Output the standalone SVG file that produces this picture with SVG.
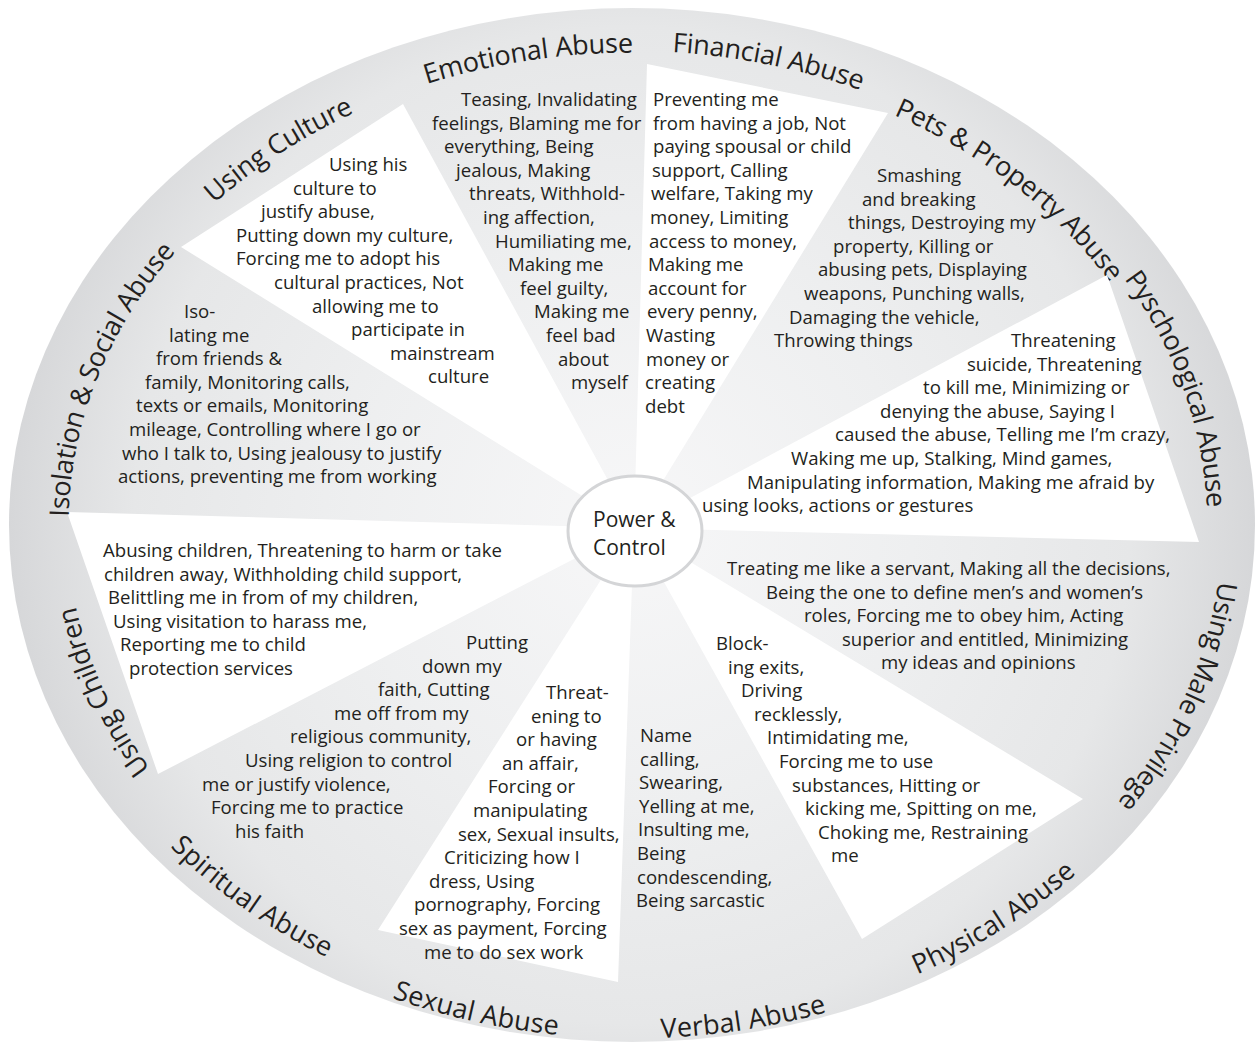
<svg xmlns="http://www.w3.org/2000/svg" width="1259" height="1045" viewBox="0 0 1259 1045">
<style>
.t{font-family:"Open Sans","Noto Sans",sans-serif;font-size:18.6px;fill:#231f20}
.lbl{font-family:"Open Sans","Noto Sans",sans-serif;font-size:27px;fill:#231f20}
.w{fill:#ffffff}
</style>
<defs>
<radialGradient id="ring" gradientUnits="userSpaceOnUse" cx="632" cy="525" r="623">
<stop offset="0" stop-color="#f7f7f8"/>
<stop offset="0.45" stop-color="#eeeff0"/>
<stop offset="0.8" stop-color="#e6e7e8"/>
<stop offset="1" stop-color="#d6d7d9"/>
</radialGradient>
<path id="p-emo" d="M251.4,159.1 A582.5,483.4 0 0 1 823.6,68.5"/>
<path id="p-fin" d="M472.9,58.3 A584.4,485 0 0 1 1039.4,177.3"/>
<path id="p-pet" d="M770.3,64.5 A571.9,474.6 0 0 1 1181.8,394.2"/>
<path id="p-psy" d="M1038.5,174.4 A586.2,486.5 0 0 1 1201,641.9"/>
<path id="p-mal" d="M1224.1,438.4 A601.2,498.9 0 0 1 1018.5,907.2"/>
<path id="p-phy" d="M720.6,1016.9 A599.3,497.4 0 0 0 1189.6,707.3"/>
<path id="p-ver" d="M434.8,1000.1 A605.6,502.5 0 0 0 1029.3,904.2"/>
<path id="p-sex" d="M200,877.2 A605.6,502.5 0 0 0 783.6,1011.5"/>
<path id="p-spi" d="M71.4,680.7 A591.2,490.6 0 0 0 514.1,1005.7"/>
<path id="p-chi" d="M261.9,890.9 A575.7,477.7 0 0 1 65,442.1"/>
<path id="p-iso" d="M83.6,666.8 A574.4,476.7 0 0 1 283.9,145.8"/>
<path id="p-cul" d="M88.4,352.7 A581.9,482.9 0 0 1 539.9,48.2"/>
</defs>

<g id="wheel">
<ellipse cx="632" cy="525" rx="623" ry="517" fill="url(#ring)"/>
</g>

<g id="emotional-abuse">
<text class="lbl" dominant-baseline="central"><textPath href="#p-emo" startOffset="50%" text-anchor="middle">Emotional Abuse</textPath></text>
<text class="t"><tspan x="461" y="106">Teasing, Invalidating</tspan><tspan x="432" y="129.6">feelings, Blaming me for</tspan><tspan x="444" y="153.2">everything, Being</tspan><tspan x="456" y="176.8">jealous, Making</tspan><tspan x="469" y="200.4">threats, Withhold-</tspan><tspan x="483" y="224">ing affection,</tspan><tspan x="495" y="247.6">Humiliating me,</tspan><tspan x="508" y="271.2">Making me</tspan><tspan x="520" y="294.8">feel guilty,</tspan><tspan x="534" y="318.4">Making me</tspan><tspan x="546" y="342">feel bad</tspan><tspan x="558" y="365.6">about</tspan><tspan x="571" y="389.2">myself</tspan></text>
</g>

<g id="financial-abuse">
<path class="w" d="M634,528 L647,64 L888,113 Z"/>
<text class="lbl" dominant-baseline="central"><textPath href="#p-fin" startOffset="50%" text-anchor="middle">Financial Abuse</textPath></text>
<text class="t"><tspan x="653" y="106">Preventing me</tspan><tspan x="653" y="129.6">from having a job, Not</tspan><tspan x="653" y="153.2">paying spousal or child</tspan><tspan x="652" y="176.8">support, Calling</tspan><tspan x="651" y="200.4">welfare, Taking my</tspan><tspan x="650" y="224">money, Limiting</tspan><tspan x="649" y="247.6">access to money,</tspan><tspan x="648" y="271.2">Making me</tspan><tspan x="648" y="294.8">account for</tspan><tspan x="647" y="318.4">every penny,</tspan><tspan x="646" y="342">Wasting</tspan><tspan x="646" y="365.6">money or</tspan><tspan x="645" y="389.2">creating</tspan><tspan x="645" y="412.8">debt</tspan></text>
</g>

<g id="pets-property-abuse">
<text class="lbl" dominant-baseline="central"><textPath href="#p-pet" startOffset="50%" text-anchor="middle">Pets &amp; Property Abuse</textPath></text>
<text class="t"><tspan x="877" y="182">Smashing</tspan><tspan x="862" y="205.6">and breaking</tspan><tspan x="848" y="229.2">things, Destroying my</tspan><tspan x="833" y="252.8">property, Killing or</tspan><tspan x="818" y="276.4">abusing pets, Displaying</tspan><tspan x="804" y="300">weapons, Punching walls,</tspan><tspan x="789" y="323.6">Damaging the vehicle,</tspan><tspan x="774" y="347.2">Throwing things</tspan></text>
</g>

<g id="psychological-abuse">
<path class="w" d="M634,528 L1107,275 L1199,542 Z"/>
<text class="lbl" dominant-baseline="central"><textPath href="#p-psy" startOffset="50%" text-anchor="middle">Pyschological Abuse</textPath></text>
<text class="t"><tspan x="1011" y="347">Threatening</tspan><tspan x="967" y="370.6">suicide, Threatening</tspan><tspan x="923" y="394.2">to kill me, Minimizing or</tspan><tspan x="880" y="417.8">denying the abuse, Saying I</tspan><tspan x="835" y="441.4">caused the abuse, Telling me I’m crazy,</tspan><tspan x="791" y="465">Waking me up, Stalking, Mind games,</tspan><tspan x="747" y="488.6">Manipulating information, Making me afraid by</tspan><tspan x="702" y="512.2">using looks, actions or gestures</tspan></text>
</g>

<g id="using-male-privilege">
<text class="lbl" dominant-baseline="central"><textPath href="#p-mal" startOffset="50%" text-anchor="middle">Using Male Privilege</textPath></text>
<text class="t"><tspan x="727" y="575">Treating me like a servant, Making all the decisions,</tspan><tspan x="766" y="598.6">Being the one to define men’s and women’s</tspan><tspan x="804" y="622.2">roles, Forcing me to obey him, Acting</tspan><tspan x="842" y="645.8">superior and entitled, Minimizing</tspan><tspan x="881" y="669.4">my ideas and opinions</tspan></text>
</g>

<g id="physical-abuse">
<path class="w" d="M634,528 L1083,799 L862,939 Z"/>
<text class="lbl" dominant-baseline="central"><textPath href="#p-phy" startOffset="50%" text-anchor="middle">Physical Abuse</textPath></text>
<text class="t"><tspan x="716" y="650">Block-</tspan><tspan x="728" y="673.6">ing exits,</tspan><tspan x="741" y="697.2">Driving</tspan><tspan x="754" y="720.8">recklessly,</tspan><tspan x="767" y="744.4">Intimidating me,</tspan><tspan x="779" y="768">Forcing me to use</tspan><tspan x="792" y="791.6">substances, Hitting or</tspan><tspan x="805" y="815.2">kicking me, Spitting on me,</tspan><tspan x="818" y="838.8">Choking me, Restraining</tspan><tspan x="831" y="862.4">me</tspan></text>
</g>

<g id="verbal-abuse">
<text class="lbl" dominant-baseline="central"><textPath href="#p-ver" startOffset="50%" text-anchor="middle">Verbal Abuse</textPath></text>
<text class="t"><tspan x="640" y="742">Name</tspan><tspan x="640" y="765.6">calling,</tspan><tspan x="639" y="789.2">Swearing,</tspan><tspan x="639" y="812.8">Yelling at me,</tspan><tspan x="638" y="836.4">Insulting me,</tspan><tspan x="637" y="860">Being</tspan><tspan x="637" y="883.6">condescending,</tspan><tspan x="636" y="907.2">Being sarcastic</tspan></text>
</g>

<g id="sexual-abuse">
<path class="w" d="M634,528 L618,982 L378,930 Z"/>
<text class="lbl" dominant-baseline="central"><textPath href="#p-sex" startOffset="50%" text-anchor="middle">Sexual Abuse</textPath></text>
<text class="t"><tspan x="546" y="699">Threat-</tspan><tspan x="531" y="722.6">ening to</tspan><tspan x="516" y="746.2">or having</tspan><tspan x="502" y="769.8">an affair,</tspan><tspan x="488" y="793.4">Forcing or</tspan><tspan x="473" y="817">manipulating</tspan><tspan x="458" y="840.6">sex, Sexual insults,</tspan><tspan x="444" y="864.2">Criticizing how I</tspan><tspan x="429" y="887.8">dress, Using</tspan><tspan x="414" y="911.4">pornography, Forcing</tspan><tspan x="399" y="935">sex as payment, Forcing</tspan><tspan x="424" y="958.6">me to do sex work</tspan></text>
</g>

<g id="spiritual-abuse">
<text class="lbl" dominant-baseline="central"><textPath href="#p-spi" startOffset="50%" text-anchor="middle">Spiritual Abuse</textPath></text>
<text class="t"><tspan x="466" y="649">Putting</tspan><tspan x="422" y="672.6">down my</tspan><tspan x="378" y="696.2">faith, Cutting</tspan><tspan x="334" y="719.8">me off from my</tspan><tspan x="290" y="743.4">religious community,</tspan><tspan x="245" y="767">Using religion to control</tspan><tspan x="202" y="790.6">me or justify violence,</tspan><tspan x="211" y="814.2">Forcing me to practice</tspan><tspan x="235" y="837.8">his faith</tspan></text>
</g>

<g id="using-children">
<path class="w" d="M634,528 L158,774 L67,512 Z"/>
<text class="lbl" dominant-baseline="central"><textPath href="#p-chi" startOffset="50%" text-anchor="middle">Using Children</textPath></text>
<text class="t"><tspan x="103" y="557">Abusing children, Threatening to harm or take</tspan><tspan x="104" y="580.6">children away, Withholding child support,</tspan><tspan x="108" y="604.2">Belittling me in from of my children,</tspan><tspan x="113" y="627.8">Using visitation to harass me,</tspan><tspan x="120" y="651.4">Reporting me to child</tspan><tspan x="129" y="675">protection services</tspan></text>
</g>

<g id="isolation-social-abuse">
<text class="lbl" dominant-baseline="central"><textPath href="#p-iso" startOffset="50%" text-anchor="middle">Isolation &amp; Social Abuse</textPath></text>
<text class="t"><tspan x="184" y="318">Iso-</tspan><tspan x="169" y="341.6">lating me</tspan><tspan x="156" y="365.2">from friends &amp;</tspan><tspan x="145" y="388.8">family, Monitoring calls,</tspan><tspan x="136" y="412.4">texts or emails, Monitoring</tspan><tspan x="129" y="436">mileage, Controlling where I go or</tspan><tspan x="122" y="459.6">who I talk to, Using jealousy to justify</tspan><tspan x="118" y="483.2">actions, preventing me from working</tspan></text>
</g>

<g id="using-culture">
<path class="w" d="M634,528 L181,247 L403,104 Z"/>
<text class="lbl" dominant-baseline="central"><textPath href="#p-cul" startOffset="50%" text-anchor="middle">Using Culture</textPath></text>
<text class="t"><tspan x="329" y="171">Using his</tspan><tspan x="293" y="194.6">culture to</tspan><tspan x="261" y="218.2">justify abuse,</tspan><tspan x="236" y="241.8">Putting down my culture,</tspan><tspan x="236" y="265.4">Forcing me to adopt his</tspan><tspan x="274" y="289">cultural practices, Not</tspan><tspan x="312" y="312.6">allowing me to</tspan><tspan x="351" y="336.2">participate in</tspan><tspan x="390" y="359.8">mainstream</tspan><tspan x="428" y="383.4">culture</tspan></text>
</g>

<g id="connectors"></g>

<g id="power-control">
<ellipse cx="635" cy="531" rx="67" ry="55" fill="#ffffff" stroke="#d4d5d7" stroke-width="3"/>
<text class="t" style="font-size:21px"><tspan x="593" y="527">Power &amp;</tspan><tspan x="593" y="555">Control</tspan></text>
</g>
</svg>
